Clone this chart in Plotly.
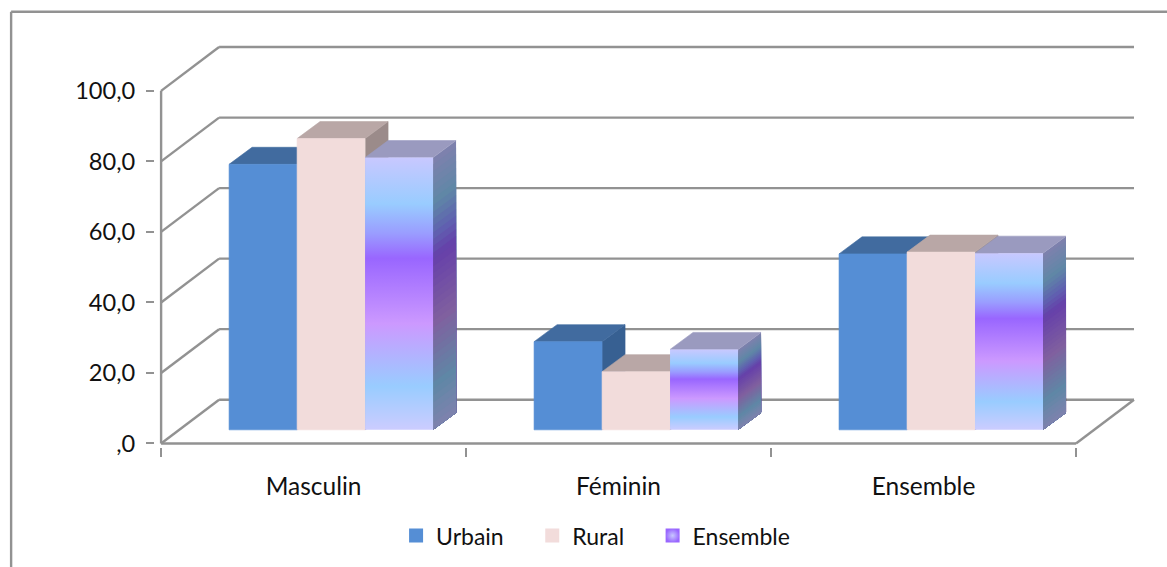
import plotly.graph_objects as go

categories = ["Masculin", "Féminin", "Ensemble"]
urbain = [75.3, 25.0, 49.9]
rural = [82.6, 16.5, 50.4]
ensemble = [77.2, 22.8, 50.1]
y_ticks = [0, 20, 40, 60, 80, 100]
y_labels = [",0", "20,0", "40,0", "60,0", "80,0", "100,0"]

GRID = "#929292"
TEXT = "#111111"
FONT = "Lato"

# chart geometry in axis units
WALL_DX, WALL_DY = 58 / 305, 43.7 / 3.52
BAR_DX, BAR_DY = 23 / 305, 17 / 3.52
BASE = 13.6 / 3.52
GROUP_START = 68 / 305
BAR_W = 68 / 305
X_END = 3.0

# page layout in pixels
W, H = 1167, 567
ML, MR, MT, MB = 154.9, 30, 45.24, 120.48
PW, PH = W - ML - MR, H - MT - MB


def paper_x(px):
    return (px - ML) / PW


def paper_y(py):
    return (H - MB - py) / PH


GRAD = [(0, "#c8c8ff"), (0.17, "#99ccff"), (0.28, "#9a9cff"), (0.37, "#9966ff"),
        (0.61, "#cc99ff"), (0.84, "#99ccff"), (1, "#ccccff")]
GRAD_SIDE = [(0, "#7f80ae"), (0.17, "#5f87a6"), (0.28, "#5f62b0"), (0.37, "#6640aa"),
             (0.61, "#80609f"), (0.84, "#5f87a6"), (1, "#7f82ae")]

series = [
    dict(name="Urbain", values=urbain, front="#558ed5", top="#416b9f", side="#376092"),
    dict(name="Rural", values=rural, front="#f2dcdb", top="#b9a7a6", side="#9b8b8a"),
    dict(name="Ensemble", values=ensemble, front=None, top="#9a9abf", side=None),
]
LEGEND_PAD = "\u00a0" * 4


def mix(stops, t):
    for (a, ca), (b, cb) in zip(stops, stops[1:]):
        if t <= b:
            f = (t - a) / (b - a)
            va = [int(ca[i:i + 2], 16) for i in (1, 3, 5)]
            vb = [int(cb[i:i + 2], 16) for i in (1, 3, 5)]
            return "rgb(%d,%d,%d)" % tuple(round(p + (q - p) * f) for p, q in zip(va, vb))
    return stops[-1][1]


def face(xs, ys, color, group, width=0.6):
    return go.Scatter(x=xs, y=ys, mode="lines", fill="toself", fillcolor=color,
                      line=dict(width=width, color=color), showlegend=False,
                      hoverinfo="skip", legendgroup=group)


fig = go.Figure()
for c in range(len(categories)):
    for s_i, s in enumerate(series):
        x0 = c + GROUP_START + s_i * BAR_W
        x1 = x0 + BAR_W
        y0 = BASE
        y1 = BASE + s["values"][c]
        g = s["name"]
        # right side
        if s["side"]:
            fig.add_trace(face([x1, x1 + BAR_DX, x1 + BAR_DX, x1, x1],
                               [y0, y0 + BAR_DY, y1 + BAR_DY, y1, y0], s["side"], g))
        else:
            n = 40
            for k in range(n):
                ta = k / n
                ya = y1 - (y1 - y0) * ta
                # each band reaches the foot of the face, the next one paints over it
                fig.add_trace(face([x1, x1 + BAR_DX, x1 + BAR_DX, x1, x1],
                                   [y0, y0 + BAR_DY, ya + BAR_DY, ya, y0],
                                   mix(GRAD_SIDE, ta + 0.5 / n), g, width=0))
        # top
        fig.add_trace(face([x0, x1, x1 + BAR_DX, x0 + BAR_DX, x0],
                           [y1, y1, y1 + BAR_DY, y1 + BAR_DY, y1], s["top"], g))
        # front
        xs, ys = [x0, x1, x1, x0, x0], [y0, y0, y1, y1, y0]
        if s["front"]:
            fig.add_trace(face(xs, ys, s["front"], g))
        else:
            fig.add_trace(go.Scatter(
                x=xs, y=ys, mode="lines", fill="toself", line=dict(width=0),
                fillgradient=dict(type="vertical", start=y0, stop=y1,
                                  colorscale=[[1 - t, col] for t, col in reversed(GRAD)]),
                showlegend=False, hoverinfo="skip", legendgroup=g))

# legend entries
for s in series:
    if s["front"]:
        marker = dict(symbol="square", size=14, color=s["front"])
        label = s["name"] + LEGEND_PAD
    else:
        marker = dict(symbol="square", size=14, color="#9966ff",
                      gradient=dict(type="radial", color="#c8c8ff"))
        label = s["name"]
    fig.add_trace(go.Scatter(x=[None], y=[None], mode="markers", name=label,
                             marker=marker, legendgroup=s["name"], hoverinfo="skip"))

shapes = []


def seg(x0, y0, x1, y1):
    shapes.append(dict(type="line", xref="x", yref="y", x0=x0, y0=y0, x1=x1, y1=y1,
                       line=dict(color=GRID, width=2.4), layer="below"))


for v in y_ticks:
    seg(0, v, WALL_DX, v + WALL_DY)
    seg(WALL_DX, v + WALL_DY, X_END + WALL_DX, v + WALL_DY)
seg(0, 0, 0, y_ticks[-1])
seg(0, 0, X_END, 0)
seg(X_END, 0, X_END + WALL_DX, WALL_DY)

# outer frame
for a, b, c_, d in [(paper_x(11), paper_y(H), paper_x(11), paper_y(12)),
                    (paper_x(11), paper_y(12), paper_x(W), paper_y(12))]:
    shapes.append(dict(type="line", xref="paper", yref="paper", x0=a, y0=b, x1=c_, y1=d,
                       line=dict(color=GRID, width=2.4), layer="below"))

fig.update_layout(
    width=W, height=H, autosize=False,
    margin=dict(l=ML, r=MR, t=MT, b=MB, pad=0, autoexpand=False),
    paper_bgcolor="white", plot_bgcolor="white",
    font=dict(family=FONT, size=22, color=TEXT),
    shapes=shapes,
    xaxis=dict(range=[-0.02, 3.2], showgrid=False, zeroline=False, showline=False,
               tickmode="array", tickvals=[i + 0.5 for i in range(3)], ticktext=categories,
               ticks="", ticklabelstandoff=22, tickfont=dict(size=24.5, family=FONT, color=TEXT),
               minor=dict(tickmode="array", tickvals=[0, 1, 2, 3], ticks="outside",
                          ticklen=9, tickwidth=2.4, tickcolor=GRID, showgrid=False)),
    yaxis=dict(range=[-1, 113], showgrid=False, zeroline=False, showline=False,
               tickmode="array", tickvals=y_ticks, ticktext=y_labels,
               ticks="outside", ticklen=8, tickwidth=2.4, tickcolor=GRID,
               ticklabelstandoff=6, tickfont=dict(size=23.6, family=FONT, color=TEXT)),
    legend=dict(orientation="h", x=paper_x(396), xanchor="left", y=paper_y(535), yanchor="middle",
                font=dict(size=23, family=FONT, color=TEXT), bgcolor="rgba(0,0,0,0)",
                itemclick=False, itemdoubleclick=False),
)
fig.write_html("out.html", config=dict(displayModeBar=False),
               post_script="document.body.style.margin='0';")
